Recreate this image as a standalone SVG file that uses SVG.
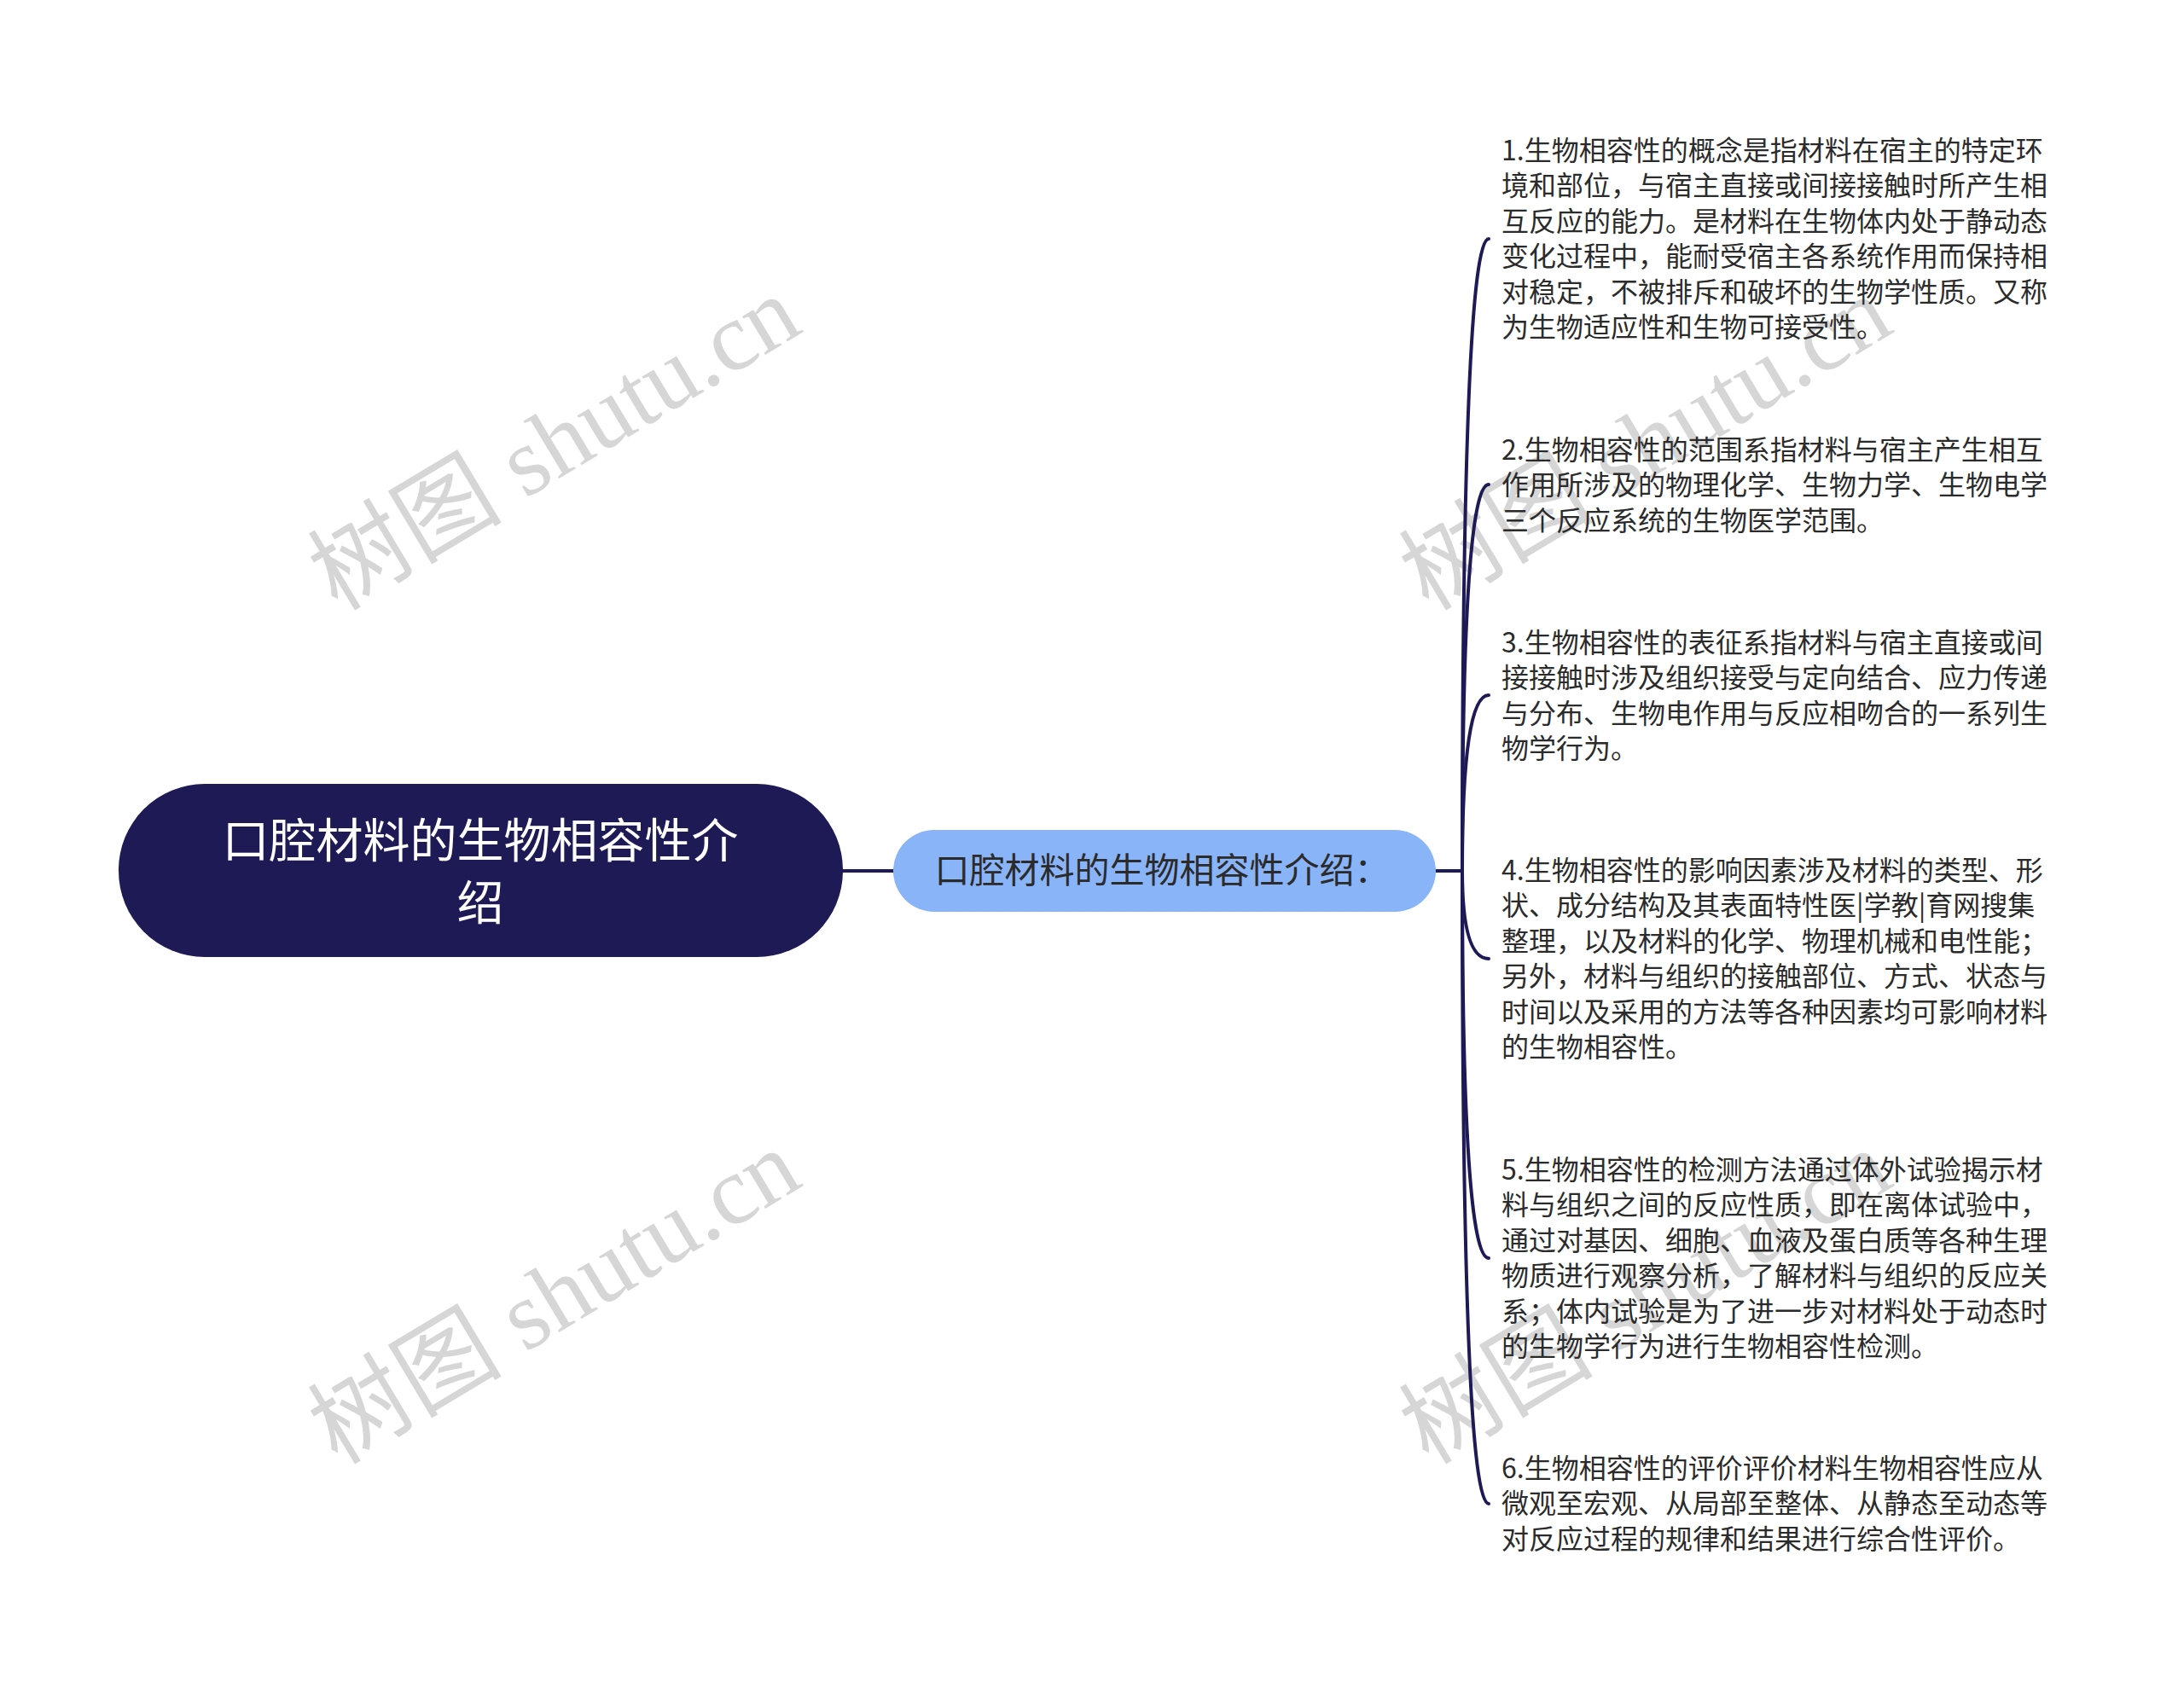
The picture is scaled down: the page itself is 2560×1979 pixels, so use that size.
<svg xmlns="http://www.w3.org/2000/svg" width="2560" height="1979" viewBox="0 0 2560 1979">
<style>
.wm{font-family:"Liberation Serif","Noto Sans CJK SC",serif;font-size:114px;fill:#d6d6d6;}
.leaf{font-family:"Noto Sans CJK SC","Noto Sans",sans-serif;font-size:32px;fill:#2b2b2b;}
.root{font-family:"Noto Sans CJK SC","Noto Sans",sans-serif;font-size:55px;fill:#ffffff;text-anchor:middle;}
.mid{font-family:"Noto Sans CJK SC","Noto Sans",sans-serif;font-size:41px;fill:#2b2b2b;text-anchor:middle;}
.conn{fill:none;stroke:#1d1a56;stroke-width:4;stroke-linecap:round;}
</style>
<rect width="2560" height="1979" fill="#ffffff"/>
<g id="watermarks">
<text class="wm" transform="translate(650,520) rotate(-31)" text-anchor="middle" dy="38">树图 shutu.cn</text>
<text class="wm" transform="translate(650,1521) rotate(-31)" text-anchor="middle" dy="38">树图 shutu.cn</text>
<text class="wm" transform="translate(1929,520) rotate(-31)" text-anchor="middle" dy="38">树图 shutu.cn</text>
<text class="wm" transform="translate(1929,1521) rotate(-31)" text-anchor="middle" dy="38">树图 shutu.cn</text>
</g>
<g id="connectors">
<path class="conn" d="M988 1021 H1047"/>
<path class="conn" d="M1683 1021 H1714"/>
<path class="conn" d="M1714 1021 Q1714 280 1745 280"/>
<path class="conn" d="M1714 1021 Q1714 568 1745 568"/>
<path class="conn" d="M1714 1021 Q1714 815 1745 815"/>
<path class="conn" d="M1714 1021 Q1714 1124 1745 1124"/>
<path class="conn" d="M1714 1021 Q1714 1475 1745 1475"/>
<path class="conn" d="M1714 1021 Q1714 1763 1745 1763"/>
</g>
<g id="root">
<rect x="139" y="919" width="849" height="203" rx="101" ry="101" fill="#1d1a56"/>
<text class="root" x="563" y="1005">口腔材料的生物相容性介</text>
<text class="root" x="563" y="1078">绍</text>
</g>
<g id="middle">
<rect x="1047" y="973" width="636" height="96" rx="48" ry="48" fill="#8ab4f8"/>
<text class="mid" x="1362" y="1035">口腔材料的生物相容性介绍：</text>
</g>
<g id="leaf1">
<text class="leaf" x="1760" y="188">1.生物相容性的概念是指材料在宿主的特定环</text>
<text class="leaf" x="1760" y="229">境和部位，与宿主直接或间接接触时所产生相</text>
<text class="leaf" x="1760" y="271">互反应的能力。是材料在生物体内处于静动态</text>
<text class="leaf" x="1760" y="312">变化过程中，能耐受宿主各系统作用而保持相</text>
<text class="leaf" x="1760" y="354">对稳定，不被排斥和破坏的生物学性质。又称</text>
<text class="leaf" x="1760" y="395">为生物适应性和生物可接受性。</text>
</g>
<g id="leaf2">
<text class="leaf" x="1760" y="539">2.生物相容性的范围系指材料与宿主产生相互</text>
<text class="leaf" x="1760" y="580">作用所涉及的物理化学、生物力学、生物电学</text>
<text class="leaf" x="1760" y="622">三个反应系统的生物医学范围。</text>
</g>
<g id="leaf3">
<text class="leaf" x="1760" y="765">3.生物相容性的表征系指材料与宿主直接或间</text>
<text class="leaf" x="1760" y="806">接接触时涉及组织接受与定向结合、应力传递</text>
<text class="leaf" x="1760" y="848">与分布、生物电作用与反应相吻合的一系列生</text>
<text class="leaf" x="1760" y="889">物学行为。</text>
</g>
<g id="leaf4">
<text class="leaf" x="1760" y="1032">4.生物相容性的影响因素涉及材料的类型、形</text>
<text class="leaf" x="1760" y="1073">状、成分结构及其表面特性医|学教|育网搜集</text>
<text class="leaf" x="1760" y="1115">整理，以及材料的化学、物理机械和电性能；</text>
<text class="leaf" x="1760" y="1156">另外，材料与组织的接触部位、方式、状态与</text>
<text class="leaf" x="1760" y="1198">时间以及采用的方法等各种因素均可影响材料</text>
<text class="leaf" x="1760" y="1239">的生物相容性。</text>
</g>
<g id="leaf5">
<text class="leaf" x="1760" y="1383">5.生物相容性的检测方法通过体外试验揭示材</text>
<text class="leaf" x="1760" y="1424">料与组织之间的反应性质，即在离体试验中，</text>
<text class="leaf" x="1760" y="1466">通过对基因、细胞、血液及蛋白质等各种生理</text>
<text class="leaf" x="1760" y="1507">物质进行观察分析，了解材料与组织的反应关</text>
<text class="leaf" x="1760" y="1549">系；体内试验是为了进一步对材料处于动态时</text>
<text class="leaf" x="1760" y="1590">的生物学行为进行生物相容性检测。</text>
</g>
<g id="leaf6">
<text class="leaf" x="1760" y="1733">6.生物相容性的评价评价材料生物相容性应从</text>
<text class="leaf" x="1760" y="1774">微观至宏观、从局部至整体、从静态至动态等</text>
<text class="leaf" x="1760" y="1816">对反应过程的规律和结果进行综合性评价。</text>
</g>
</svg>
